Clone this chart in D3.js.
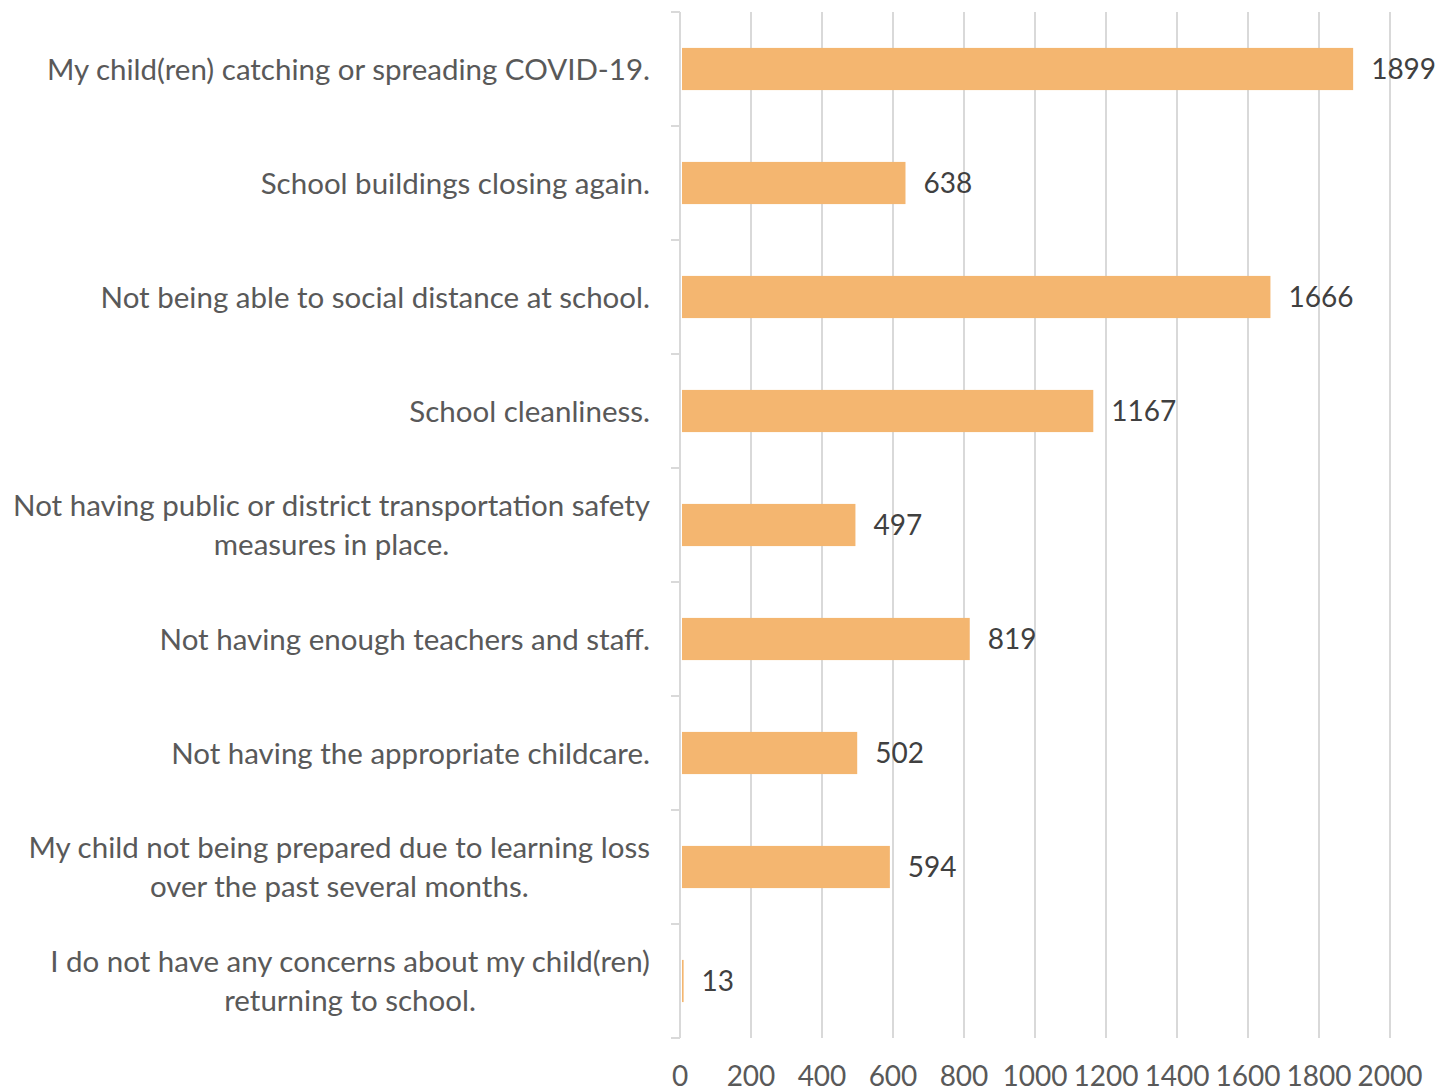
<!DOCTYPE html>
<html>
<head>
<meta charset="utf-8">
<script src="https://cdn.jsdelivr.net/npm/d3@7"></script>
<style>
  body { margin: 0; background: #fff; }
  text { font-family: Lato, "Open Sans", sans-serif; }
</style>
</head>
<body>
<div class="chart"></div>
<script>
// data
var categories = [
  ["My child(ren) catching or spreading COVID-19."],
  ["School buildings closing again."],
  ["Not being able to social distance at school."],
  ["School cleanliness."],
  ["Not having public or district transportation safety", "measures in place."],
  ["Not having enough teachers and staff."],
  ["Not having the appropriate childcare."],
  ["My child not being prepared due to learning loss", "over the past several months."],
  ["I do not have any concerns about my child(ren)", "returning to school."]
];
var values = [1899, 638, 1666, 1167, 497, 819, 502, 594, 13];
var tickValues = [0, 200, 400, 600, 800, 1000, 1200, 1400, 1600, 1800, 2000];

var svgWidth = 1437, svgHeight = 1092;
var margin = { top: 12, right: 47, bottom: 54, left: 680 };
var width = svgWidth - margin.left - margin.right;
var height = svgHeight - margin.top - margin.bottom;

var svg = d3.select(".chart").append("svg")
  .attr("width", svgWidth)
  .attr("height", svgHeight);

var chart = svg.append("g")
  .attr("transform", "translate(" + margin.left + "," + margin.top + ")");

var idx = d3.range(values.length);
var xScale = d3.scaleLinear().domain([0, 2000]).range([0, width]);
var yScale = d3.scaleBand().domain(idx).range([0, height]).paddingInner(0.63).paddingOuter(0.315);
var bandScale = d3.scaleBand().domain(idx).range([0, height]);

// gridlines
chart.selectAll(".grid")
  .data(tickValues.slice(1))
  .enter().append("line")
  .attr("x1", function(d) { return xScale(d); })
  .attr("x2", function(d) { return xScale(d); })
  .attr("y1", 0)
  .attr("y2", height)
  .attr("stroke", "#d9d9d9")
  .attr("stroke-width", 2);

// category axis line + ticks at band boundaries
chart.append("line")
  .attr("x1", 0).attr("x2", 0)
  .attr("y1", 0).attr("y2", height)
  .attr("stroke", "#d9d9d9").attr("stroke-width", 2);

chart.selectAll(".ytick")
  .data(d3.range(values.length + 1))
  .enter().append("line")
  .attr("x1", -9).attr("x2", 0)
  .attr("y1", function(d) { return d * bandScale.step(); })
  .attr("y2", function(d) { return d * bandScale.step(); })
  .attr("stroke", "#d9d9d9").attr("stroke-width", 2);

// bars
chart.selectAll(".bar")
  .data(values)
  .enter().append("rect")
  .attr("x", 2)
  .attr("y", function(d, i) { return yScale(i); })
  .attr("width", function(d) { return Math.max(1, xScale(d) - 3); })
  .attr("height", yScale.bandwidth())
  .attr("fill", "#f4b670");

// value labels
chart.selectAll(".val")
  .data(values)
  .enter().append("text")
  .attr("x", function(d) { return xScale(d) + 17; })
  .attr("y", function(d, i) { return yScale(i) + yScale.bandwidth() / 2; })
  .attr("dy", "0.36em")
  .attr("font-size", 28)
  .attr("fill", "#404040")
  .text(function(d) { return d; });

// category labels
var labelRight = -30;
var labelSize = 29.5;
categories.forEach(function(lines, i) {
  var cy = bandScale(i) + bandScale.step() / 2;
  var t = chart.append("text")
    .attr("font-size", labelSize)
    .attr("fill", "#595959");
  if (lines.length === 1) {
    t.attr("text-anchor", "end")
      .attr("x", labelRight)
      .attr("y", cy)
      .attr("dy", "0.36em")
      .text(lines[0]);
  } else {
    // measure the widest line, center the block against the right edge
    var tmp = chart.append("text").attr("font-size", labelSize).text(lines[0]);
    var w = tmp.node().getComputedTextLength();
    tmp.remove();
    var cx = labelRight - w / 2;
    lines.forEach(function(line, k) {
      t.append("tspan")
        .attr("text-anchor", "middle")
        .attr("x", cx)
        .attr("y", cy + (k - 0.5) * 39)
        .attr("dy", "0.36em")
        .text(line);
    });
  }
});

// bottom tick labels
chart.selectAll(".xtick")
  .data(tickValues)
  .enter().append("text")
  .attr("x", function(d) { return xScale(d); })
  .attr("y", height + 38)
  .attr("dy", "0.36em")
  .attr("text-anchor", "middle")
  .attr("font-size", 28)
  .attr("fill", "#595959")
  .text(function(d) { return d; });
</script>
</body>
</html>
